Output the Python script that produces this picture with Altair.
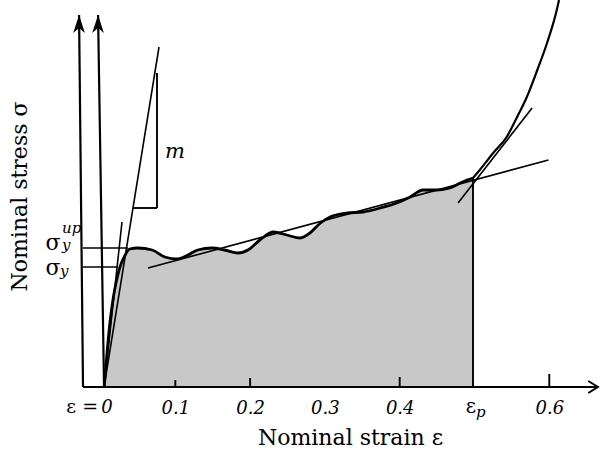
import altair as alt
import pandas as pd

# ---------------- data ----------------
# main stress-strain curve up to eps_p (strain, stress in arbitrary units)
eps_curve = [0.005, 0.009, 0.013, 0.017, 0.021, 0.026, 0.033, 0.039, 0.050, 0.069,
             0.086, 0.102, 0.117, 0.130, 0.149, 0.166, 0.184, 0.197, 0.213, 0.231,
             0.249, 0.267, 0.280, 0.294, 0.307, 0.330, 0.351, 0.374, 0.396, 0.414,
             0.431, 0.450, 0.467, 0.481, 0.490, 0.498]
sig_curve = [0, 37, 67, 89, 105, 120, 132, 138, 139, 137,
             130, 128, 132, 137, 139, 137, 134, 137, 147, 155,
             152, 149, 154, 164, 170, 174, 175, 179, 184, 190,
             197, 197, 199, 204, 207, 209]

# hardening branch beyond eps_p
eps_hard = [0.498, 0.507, 0.525, 0.543, 0.557, 0.570, 0.584, 0.597, 0.610, 0.613]
sig_hard = [209, 217, 234, 250, 270, 290, 317, 344, 377, 387]

# straight construction segments: start/end strain & stress, kind
seg_x1 = [-0.0234, -0.0234, 0.0047, 0.0635, 0.478, 0.0047, 0.0047, 0.0434, 0.0755,
          -0.0234, -0.0234, 0.498, 0.1, 0.2, 0.4, 0.6]
seg_y1 = [0, 0, 0, 119, 184, 0, 0, 179, 179, 139, 120, 0, 0, 0, 0, 0]
seg_x2 = [0.665, -0.0287, -0.0033, 0.5989, 0.577, 0.0782, 0.0287, 0.0755, 0.0755,
          0.0368, 0.0234, 0.498, 0.1, 0.2, 0.4, 0.6]
seg_y2 = [0, 372, 372, 227, 279, 340, 165, 179, 314, 139, 120, 209, 7, 9, 10, 13]
seg_kind = ["axis", "axis", "axis", "thin", "thin", "thin", "thin", "mid", "mid",
            "thin", "thin", "mid", "mid", "mid", "mid", "mid"]

# arrow heads (tips)
arrow_x = [-0.0287, -0.0033]
arrow_y = [372, 372]

# tick labels
tick_values = [0.1, 0.2, 0.3, 0.4, 0.6]

# annotations
sig_text = ["σ", "σ"]
sig_tx = [-0.0635, -0.0635]
sig_ty = [137, 112]
sub_text = ["up", "y", "y", "p"]
sub_tx = [-0.0515, -0.0515, -0.0541, 0.502]
sub_ty = [154, 137, 111, -30]
eps_text = ["ε"]
eps_tx = [0.4953]
eps_ty = [-26]
zero_left_text = ["ε ="]
zero_left_x = [-0.0033]
zero_text = ["0"]
zero_x = [0.0087]
m_text = ["m"]
m_x = [0.0996]
m_y = [229]

# ---------------- chart ----------------
SERIF = "DejaVu Serif"
xscale = alt.Scale(domain=[-0.1344, 0.6678], nice=False, zero=False)
yscale = alt.Scale(domain=[0, 387], nice=False, zero=False)

xaxis = alt.Axis(values=tick_values, format=".1f", domain=False, ticks=False, tickSize=0,
                 grid=False, labelFont=SERIF, labelFontStyle="italic", labelFontSize=18,
                 labelColor="black", labelBaseline="alphabetic", labelPadding=26,
                 title="Nominal strain ε", titleFont=SERIF, titleFontSize=22,
                 titleFontWeight="normal", titleColor="black", titleX=350, titleY=57,
                 titleBaseline="alphabetic", titleAlign="center")
yaxis = alt.Axis(domain=False, ticks=False, labels=False, grid=False,
                 title="Nominal stress σ", titleFont=SERIF, titleFontSize=22,
                 titleFontWeight="normal", titleColor="black", titleX=26, titleY=196,
                 titleAngle=270, titleBaseline="alphabetic", titleAlign="center")


def X(f):
    return alt.X(f, type="quantitative", scale=xscale, axis=xaxis)


def Y(f):
    return alt.Y(f, type="quantitative", scale=yscale, axis=yaxis)


curve_df = pd.DataFrame({"eps": eps_curve, "sig": sig_curve})
hard_df = pd.DataFrame({"eps": eps_hard, "sig": sig_hard})
seg_df = pd.DataFrame({"x1": seg_x1, "y1": seg_y1, "x2": seg_x2, "y2": seg_y2, "kind": seg_kind})
arrow_df = pd.DataFrame({"eps": arrow_x, "sig": arrow_y})
chev_df = pd.DataFrame({"eps": [seg_x2[0]], "sig": [0]})

area = alt.Chart(curve_df).mark_area(color="#c8c8c8", interpolate="monotone").encode(
    x=X("eps"), y=Y("sig"))
line = alt.Chart(curve_df).mark_line(color="black", strokeWidth=2.8, interpolate="monotone").encode(
    x=X("eps"), y=Y("sig"))
hard = alt.Chart(hard_df).mark_line(color="black", strokeWidth=2.2, interpolate="monotone", clip=True).encode(
    x=X("eps"), y=Y("sig"))
segs = alt.Chart(seg_df).mark_rule(color="black").encode(
    x=X("x1"), y=Y("y1"), x2="x2", y2="y2",
    strokeWidth=alt.StrokeWidth("kind:N", scale=alt.Scale(domain=["axis", "mid", "thin"],
                                                           range=[2.2, 1.6, 1.2]), legend=None))
heads = alt.Chart(arrow_df).mark_point(
    shape="M0,-1L0.65,1L0,0.45L-0.65,1Z", filled=True, color="black", size=324, opacity=1,
    yOffset=9).encode(x=X("eps"), y=Y("sig"))
chev = alt.Chart(chev_df).mark_point(
    shape="M-0.8,-1L0.8,0L-0.8,1", filled=False, color="black", size=144, strokeWidth=2,
    opacity=1, xOffset=-4.8).encode(x=X("eps"), y=Y("sig"))

def texts(t, xs, ys, **kw):
    df = pd.DataFrame({"t": t, "eps": xs, "sig": ys})
    return alt.Chart(df).mark_text(color="black", font=SERIF, baseline="alphabetic", **kw).encode(
        x=X("eps"), y=Y("sig"), text="t:N")

t_sig = texts(sig_text, sig_tx, sig_ty, fontSize=22, align="center")
t_sub = texts(sub_text, sub_tx, sub_ty, fontSize=15, fontStyle="italic", align="left")
t_eps = texts(eps_text, eps_tx, eps_ty, fontSize=20, align="center")
t_eq = texts(zero_left_text, zero_left_x, [-26], fontSize=19, align="right")
t_zero = texts(zero_text, zero_x, [-26], fontSize=18, fontStyle="italic", align="center")
t_m = texts(m_text, m_x, m_y, fontSize=21, fontStyle="italic", align="center")

chart = alt.layer(area, line, hard, segs, heads, chev, t_sig, t_sub, t_eps, t_eq, t_zero, t_m).properties(
    width=600, height=387,
    padding={"left": 0, "right": 0, "top": 0, "bottom": 65},
    autosize=alt.AutoSizeParams(type="none"),
    background="white",
).configure_view(stroke=None)

chart.save("out.html", embed_options={"renderer": "svg", "actions": False})
